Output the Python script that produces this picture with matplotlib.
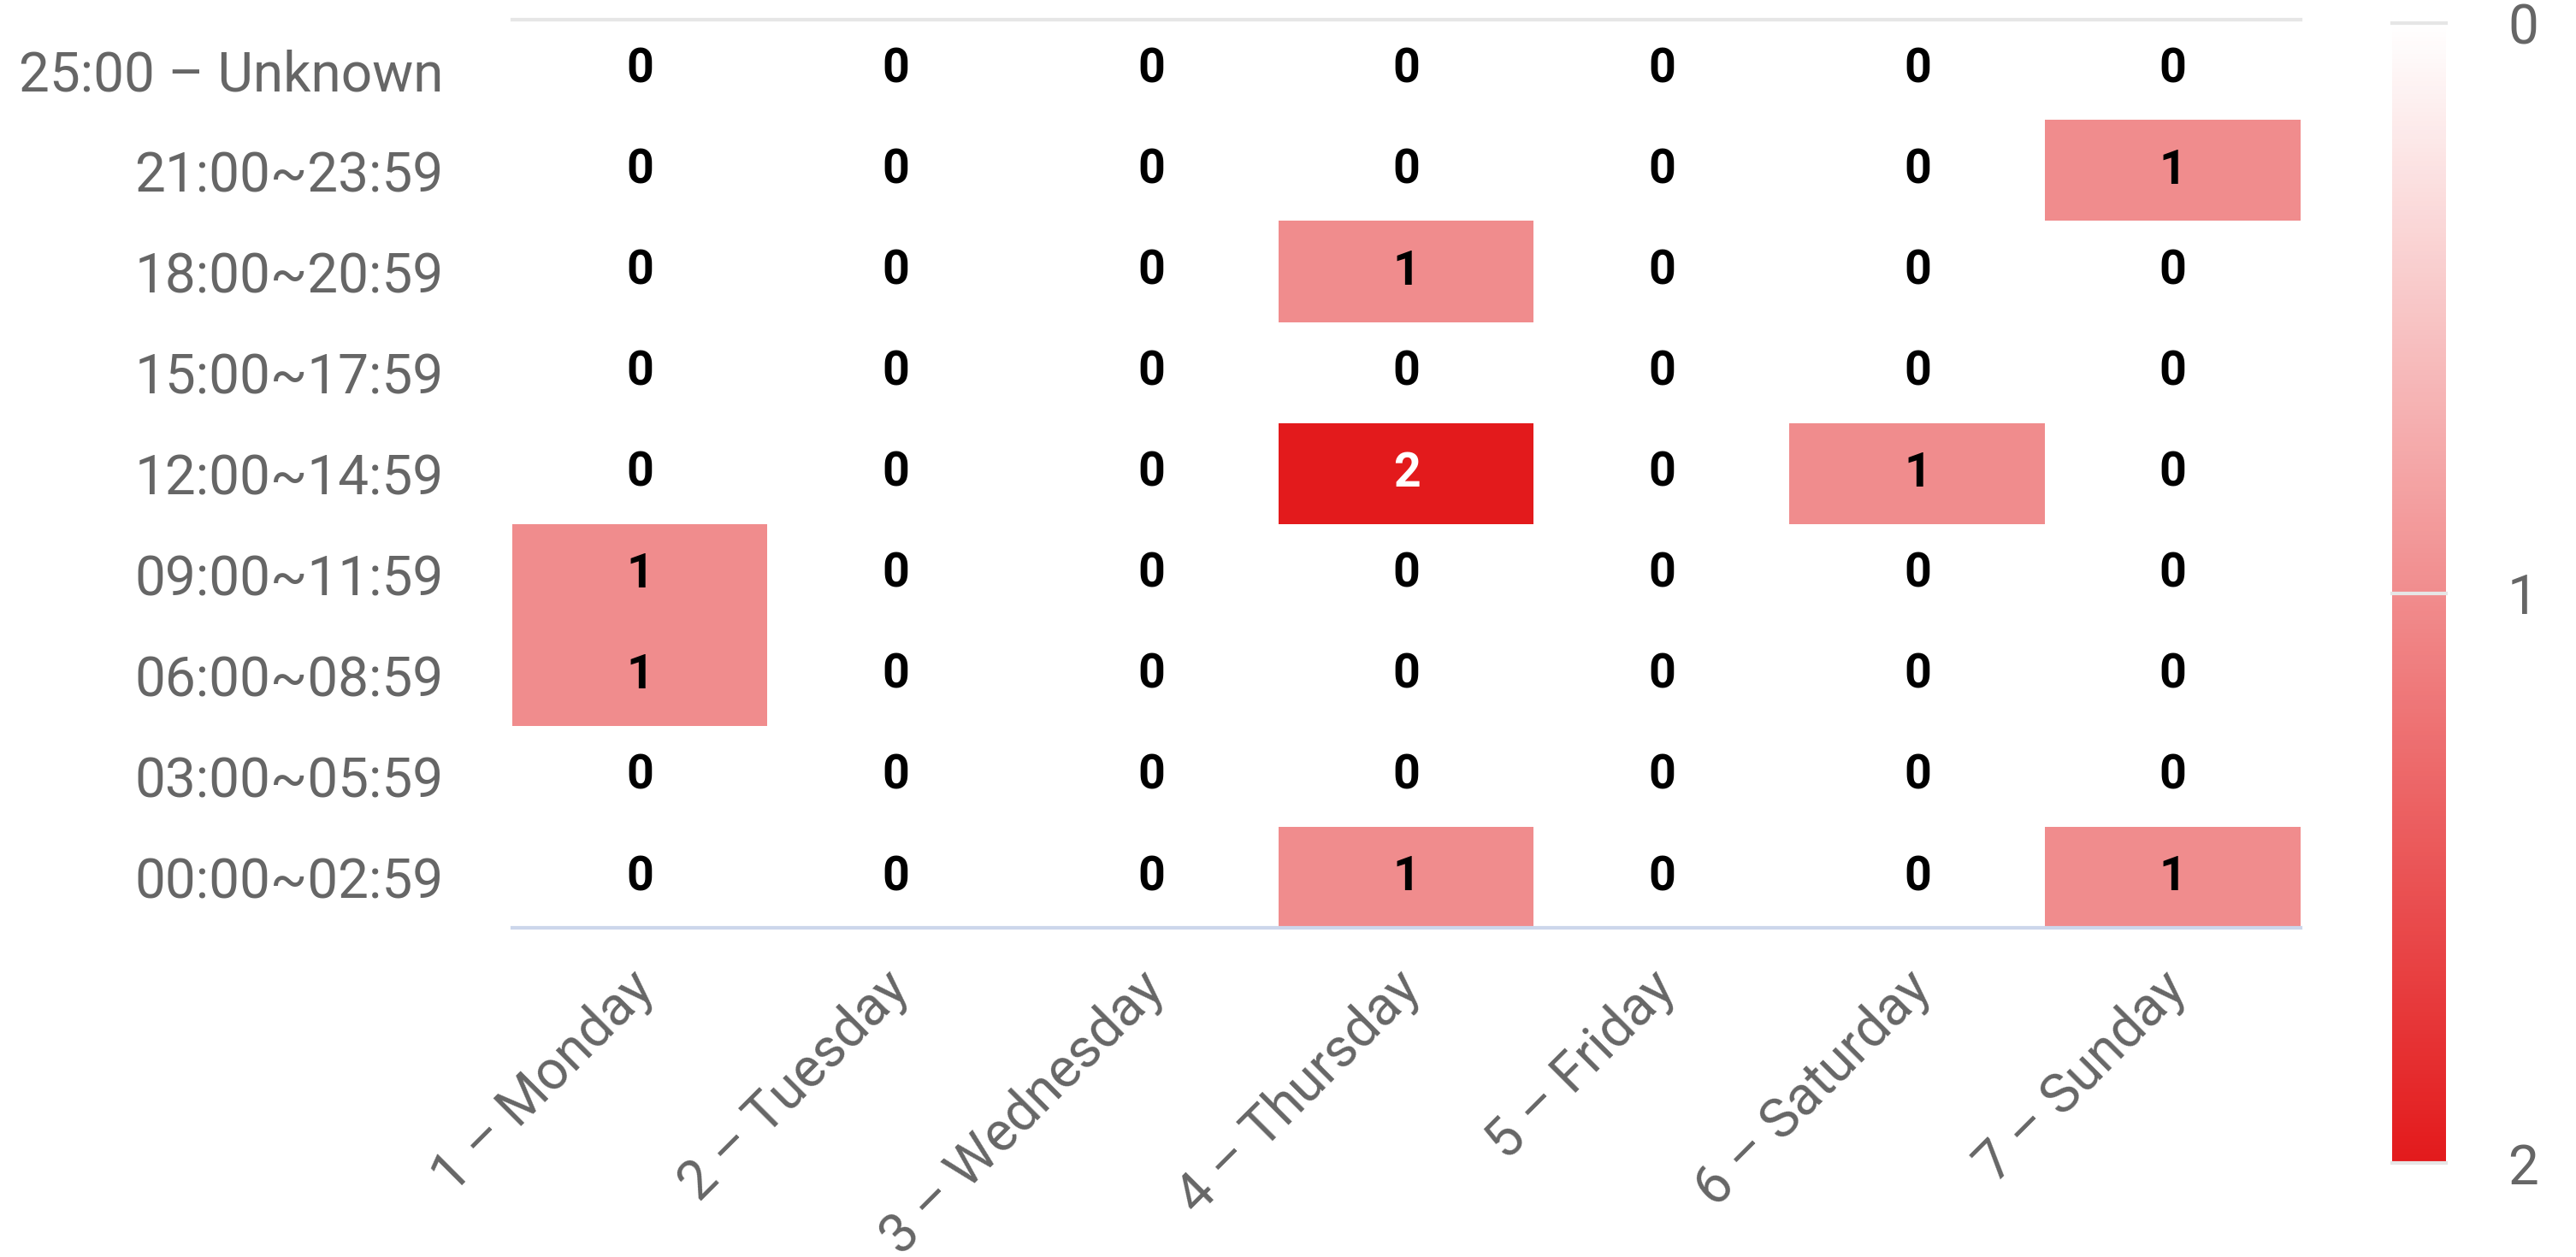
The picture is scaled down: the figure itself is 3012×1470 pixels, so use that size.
import numpy as np
import matplotlib
matplotlib.use("Agg")
import matplotlib.pyplot as plt
from matplotlib.colors import LinearSegmentedColormap
from matplotlib.transforms import ScaledTranslation

plt.rcParams['font.family'] = ['Roboto', 'DejaVu Sans']

days = ["1 – Monday", "2 – Tuesday", "3 – Wednesday", "4 – Thursday",
        "5 – Friday", "6 – Saturday", "7 – Sunday"]
# bottom to top
slots = ["00:00~02:59", "03:00~05:59", "06:00~08:59", "09:00~11:59",
         "12:00~14:59", "15:00~17:59", "18:00~20:59", "21:00~23:59",
         "25:00 – Unknown"]
counts = np.array([
    [0, 0, 0, 1, 0, 0, 1],
    [0, 0, 0, 0, 0, 0, 0],
    [1, 0, 0, 0, 0, 0, 0],
    [1, 0, 0, 0, 0, 0, 0],
    [0, 0, 0, 2, 0, 1, 0],
    [0, 0, 0, 0, 0, 0, 0],
    [0, 0, 0, 1, 0, 0, 0],
    [0, 0, 0, 0, 0, 0, 1],
    [0, 0, 0, 0, 0, 0, 0],
])

label_color = "#666666"
cmap = LinearSegmentedColormap.from_list("wr", ["#ffffff", "#e31a1c"])

fig = plt.figure(figsize=(30.12, 14.7), dpi=100)
ax = fig.add_axes([0.1989, 0.2619, 0.6942, 0.7225])

im = ax.imshow(counts, cmap=cmap, vmin=0, vmax=2, origin="lower",
               aspect="auto", interpolation="nearest")

for i in range(counts.shape[0]):
    for j in range(counts.shape[1]):
        v = counts[i, j]
        ax.text(j, i, str(v), ha="center", va="center", fontsize=40,
                fontweight="bold", color="white" if v >= 2 else "black")

ax.set_xticks(range(len(days)))
ax.set_xticklabels(days, rotation=45, ha="right", va="center",
                   rotation_mode="anchor", fontsize=46, color=label_color)
ax.set_yticks(range(len(slots)))
ax.set_yticklabels(slots, fontsize=46, color=label_color)
ax.tick_params(axis="x", length=0, pad=44)
ax.tick_params(axis="y", length=0, pad=58)
shift = ScaledTranslation(0.06, 0, fig.dpi_scale_trans)
for lab in ax.get_xticklabels():
    lab.set_transform(lab.get_transform() + shift)

for s in ["top", "left", "right"]:
    ax.spines[s].set_visible(False)
ax.spines["bottom"].set_color("#ccd6eb")
ax.spines["bottom"].set_linewidth(3)
ax.axhline(len(slots) - 0.5, color="#e6e6e6", lw=3, clip_on=False)

# colour axis
cax = fig.add_axes([0.9286, 0.0748, 0.0209, 0.9068])
cb = fig.colorbar(im, cax=cax)
cb.outline.set_visible(False)
cax.invert_yaxis()
cb.set_ticks([0, 1, 2])
cax.tick_params(length=0, pad=52, labelsize=46, labelcolor=label_color)
for v in [0, 1, 2]:
    cax.axhline(v, color="#e6e6e6", lw=3, clip_on=False)

fig.savefig("out.png", dpi=100)
